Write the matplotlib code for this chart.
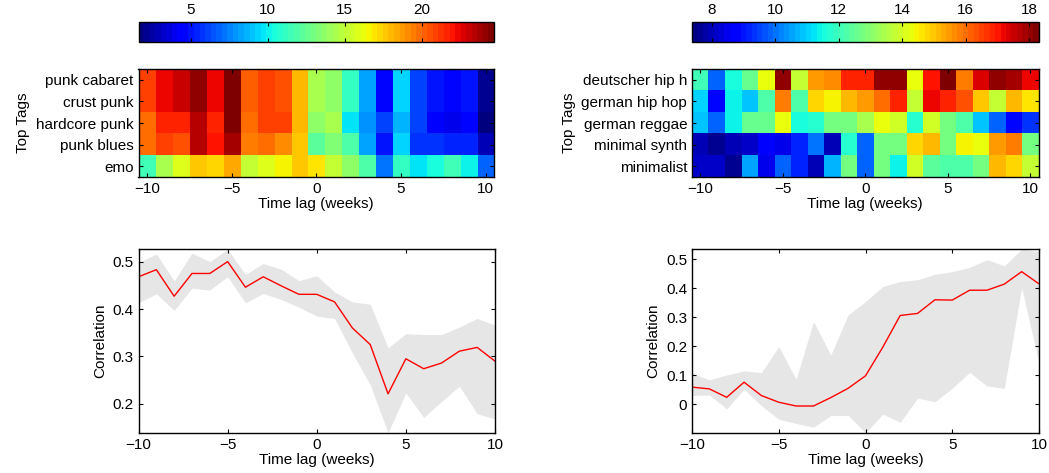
import numpy as np
import matplotlib
matplotlib.use("Agg")
import matplotlib.pyplot as plt
from matplotlib.ticker import FuncFormatter

plt.rcParams['font.family'] = ['Liberation Sans', 'DejaVu Sans']
plt.rcParams['font.size'] = 11

lags = np.arange(-10, 11)

# left panel: punk tags
tags_left = ["punk cabaret", "crust punk", "hardcore punk", "punk blues", "emo"]
heat_left = [
    [20.8, 22.4, 22.9, 24.2, 22.2, 24.7, 20.1, 20.8, 20.4, 18.0, 14.3, 13.8, 11.3, 8.3, 4.8, 9.5, 6.0, 5.1, 4.7, 5.1, 2.3],
    [20.8, 22.4, 22.9, 24.2, 22.2, 24.7, 20.1, 20.8, 20.4, 18.0, 14.3, 13.8, 11.3, 8.3, 4.8, 9.5, 6.0, 5.1, 4.7, 5.1, 2.3],
    [19.9, 21.5, 21.5, 23.5, 21.5, 24.7, 19.9, 20.8, 20.8, 18.0, 13.8, 14.3, 9.9, 7.8, 6.0, 8.8, 6.2, 4.4, 4.1, 4.6, 1.6],
    [19.9, 21.0, 20.5, 23.5, 21.9, 23.8, 19.4, 19.9, 19.2, 17.5, 12.2, 13.4, 12.0, 8.3, 5.1, 9.2, 5.8, 5.8, 5.5, 5.5, 2.8],
    [11.5, 14.3, 15.9, 17.8, 17.3, 18.5, 15.2, 15.7, 16.6, 17.8, 17.1, 15.2, 13.8, 12.0, 7.1, 11.3, 9.9, 10.6, 11.5, 10.1, 6.9],
]
clim_left = (1.6, 24.7)
corr_left = [0.468, 0.483, 0.427, 0.475, 0.475, 0.500, 0.446, 0.468, 0.449, 0.431, 0.431,
             0.415, 0.360, 0.325, 0.221, 0.295, 0.274, 0.286, 0.311, 0.319, 0.290]
upper_left = [0.498, 0.516, 0.459, 0.518, 0.500, 0.526, 0.473, 0.496, 0.484, 0.460, 0.470,
              0.436, 0.415, 0.410, 0.318, 0.348, 0.346, 0.346, 0.362, 0.380, 0.366]
lower_left = [0.413, 0.432, 0.397, 0.444, 0.440, 0.468, 0.413, 0.433, 0.420, 0.404, 0.385,
              0.380, 0.307, 0.240, 0.139, 0.223, 0.171, 0.205, 0.237, 0.179, 0.168]

# right panel: german hip hop / minimal tags
tags_right = ["deutscher hip h", "german hip hop", "german reggae", "minimal synth", "minimalist"]
heat_right = [
    [12.1, 9.9, 11.6, 12.6, 14.3, 18.1, 13.7, 15.4, 15.7, 16.9, 16.8, 18.0, 18.0, 14.3, 17.0, 18.3, 15.9, 17.4, 18.0, 17.8, 17.2],
    [11.1, 8.8, 11.3, 10.9, 12.2, 15.9, 12.2, 14.8, 14.5, 15.1, 15.4, 16.0, 16.9, 13.8, 17.2, 16.9, 16.4, 14.9, 13.7, 15.1, 14.7],
    [10.8, 9.8, 11.3, 12.6, 12.6, 14.3, 11.6, 11.7, 12.7, 12.8, 13.5, 14.3, 13.9, 11.7, 13.9, 12.8, 12.2, 10.8, 9.8, 8.9, 9.3],
    [8.0, 7.6, 8.0, 8.1, 8.6, 8.5, 9.2, 10.0, 8.0, 11.7, 9.8, 12.8, 12.8, 14.8, 15.1, 12.8, 14.5, 14.3, 15.4, 15.8, 12.8],
    [8.1, 8.2, 7.7, 10.5, 8.5, 9.8, 9.2, 8.0, 10.7, 12.7, 9.9, 12.7, 11.3, 13.9, 12.4, 12.2, 12.2, 12.7, 15.2, 14.8, 13.8],
]
clim_right = (7.37, 18.3)
corr_right = [0.059, 0.053, 0.024, 0.076, 0.030, 0.007, -0.006, -0.006, 0.023, 0.055, 0.098,
              0.197, 0.306, 0.313, 0.360, 0.359, 0.393, 0.393, 0.414, 0.457, 0.415]
upper_right = [0.107, 0.084, 0.101, 0.115, 0.109, 0.199, 0.086, 0.285, 0.170, 0.308, 0.354,
               0.406, 0.423, 0.429, 0.448, 0.457, 0.472, 0.498, 0.477, 0.534, 0.526]
lower_right = [0.030, 0.032, -0.016, 0.052, -0.005, -0.052, -0.066, -0.079, -0.039, -0.039, -0.098,
               -0.034, -0.062, 0.021, 0.009, 0.055, 0.110, 0.063, 0.055, 0.402, 0.141]

W, H = 1049, 473
jet = plt.get_cmap('jet', 64)


def rect(x0, y0, x1, y1):
    # pixel box (top-left origin) -> figure fraction
    return [x0 / W, 1 - y1 / H, (x1 - x0) / W, (y1 - y0) / H]


def box_ticks(ax):
    ax.tick_params(direction='in', top=True, right=True, length=3, width=0.8, colors='black')
    for s in ax.spines.values():
        s.set_linewidth(1.0)


def heat_panel(fig, x0, x1, data, tags, clim):
    ax = fig.add_axes(rect(x0, 69, x1, 177))
    im = ax.imshow(np.array(data), cmap=jet, vmin=clim[0], vmax=clim[1], aspect='auto',
                   interpolation='nearest', extent=[-10.5, 10.5, len(tags) - 0.5, -0.5])
    ax.set_xticks([-10, -5, 0, 5, 10])
    ax.set_yticks(range(len(tags)))
    ax.set_yticklabels(tags)
    ax.set_xlabel("Time lag (weeks)", labelpad=1)
    ax.set_ylabel("Top Tags")
    box_ticks(ax)

    cax = fig.add_axes(rect(x0, 21.7, x1, 41.7))
    cb = fig.colorbar(im, cax=cax, orientation='horizontal')
    cax.xaxis.set_ticks_position('top')
    cax.tick_params(direction='in', top=True, bottom=True, length=3, width=0.8)
    cb.outline.set_linewidth(1.0)
    return ax, cax


def corr_panel(fig, x0, x1, corr, lo, hi, yticks):
    ax = fig.add_axes(rect(x0, 249.3, x1, 432.7))
    ax.fill_between(lags, lo, hi, color='#e6e6e6', linewidth=0)
    ax.plot(lags, corr, color='red', linewidth=1.0)
    ax.set_xlim(-10, 10)
    ax.set_ylim(min(lo), max(hi))
    ax.set_xticks([-10, -5, 0, 5, 10])
    ax.set_yticks(yticks)
    ax.yaxis.set_major_formatter(FuncFormatter(lambda v, p: "%g" % round(v, 2)))
    ax.set_xlabel("Time lag (weeks)", labelpad=1)
    ax.set_ylabel("Correlation")
    box_ticks(ax)
    return ax


fig = plt.figure(figsize=(W / 100, H / 100), dpi=100)

heat_panel(fig, 138.5, 494, heat_left, tags_left, clim_left)
cb_ax = fig.axes[-1]
cb_ax.set_xticks([5, 10, 15, 20])

heat_panel(fig, 692, 1038.5, heat_right, tags_right, clim_right)
cb_ax = fig.axes[-1]
cb_ax.set_xticks([8, 10, 12, 14, 16, 18])

corr_panel(fig, 138.5, 495, corr_left, lower_left, upper_left, [0.2, 0.3, 0.4, 0.5])
corr_panel(fig, 692, 1039, corr_right, lower_right, upper_right, [0, 0.1, 0.2, 0.3, 0.4, 0.5])

fig.savefig("out.png", dpi=100)
